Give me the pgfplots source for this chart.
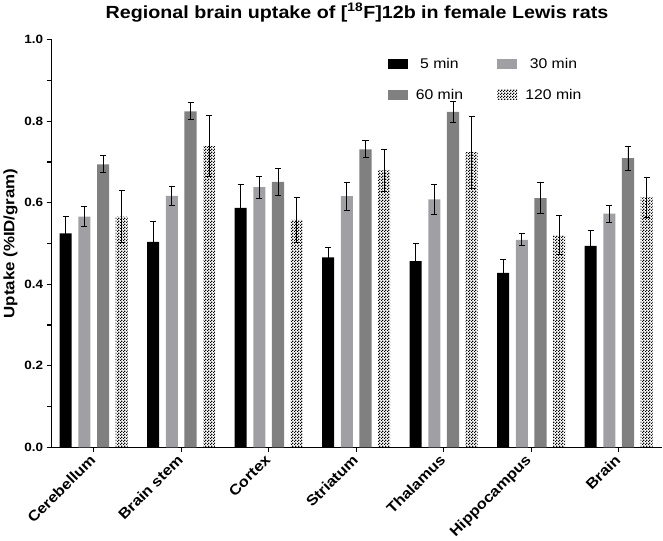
\documentclass[border=0pt]{standalone}
\usepackage{pgfplots}
\pgfplotsset{compat=1.18}
\usepackage{pgfplotstable}
\usepackage{graphicx}
\usepackage{fontspec}
\setmainfont{Liberation Sans}[FakeStretch=1.12]
\usetikzlibrary{patterns}
\pgfdeclarepatternformonly{finecheck}{\pgfqpoint{0pt}{0pt}}{\pgfqpoint{3pt}{3pt}}{\pgfqpoint{3pt}{3pt}}{%
\pgfpathrectangle{\pgfqpoint{0pt}{0pt}}{\pgfqpoint{1.5pt}{1.5pt}}%
\pgfpathrectangle{\pgfqpoint{1.5pt}{1.5pt}}{\pgfqpoint{1.5pt}{1.5pt}}%
\pgfusepath{fill}}
\definecolor{lgray}{RGB}{160,160,164}
\definecolor{dgray}{RGB}{128,128,128}
\pgfplotstableread{
x v5 e5 v30 e30 v60 e60 v120 e120
0 0.525 0.041 0.566 0.024 0.694 0.021 0.566 0.064
1 0.504 0.051 0.617 0.024 0.824 0.021 0.739 0.074
2 0.587 0.058 0.638 0.027 0.651 0.034 0.558 0.056
3 0.466 0.025 0.616 0.034 0.731 0.021 0.679 0.051
4 0.457 0.042 0.608 0.037 0.823 0.026 0.724 0.088
5 0.428 0.033 0.509 0.015 0.611 0.038 0.520 0.048
6 0.494 0.038 0.573 0.021 0.709 0.029 0.613 0.049
}\data
\newcommand{\rl}[1]{\rotatebox{45}{#1}}
\begin{document}
\begin{tikzpicture}
\begin{axis}[
  scale only axis,
  width=608pt, height=406pt,
  ybar=6.6pt, bar width=12pt,
  xmin=-0.48, xmax=6.5,
  ymin=0, ymax=1.0,
  axis x line*=bottom, axis y line*=left,
  axis line style={line width=1.2pt},
  xtick={0,1,2,3,4,5,6},
  xticklabels={\rl{Cerebellum},\rl{Brain stem},\rl{Cortex},\rl{Striatum},\rl{Thalamus},\rl{Hippocampus},\rl{Brain}},
  xticklabel style={anchor=north east, font=\bfseries\fontsize{14.5}{16}\selectfont, inner sep=1pt, xshift=4pt},
  ytick={0,0.2,0.4,0.6,0.8,1.0},
  minor ytick={0.1,0.3,0.5,0.7,0.9},
  yticklabel style={font=\bfseries\fontsize{12}{14}\selectfont, /pgf/number format/.cd, fixed, fixed zerofill, precision=1, assume math mode=true},
  tick align=outside,
  major tick length=5pt, minor tick length=5pt,
  tick style={line width=1.2pt, black},
  ylabel={Uptake (\%ID/gram)},
  ylabel style={font=\bfseries\fontsize{15}{17}\selectfont},
  title={Regional brain uptake of [\textsuperscript{18}F]12b in female Lewis rats},
  title style={font=\bfseries\fontsize{17.5}{20}\selectfont, yshift=8pt},
  legend columns=2,
  legend style={at={(0.545,0.965)}, anchor=north west, draw=none, fill=none,
    font=\fontsize{14}{16}\selectfont, row sep=15pt,
    /tikz/every odd column/.append style={column sep=6pt},
    /tikz/every even column/.append style={column sep=32pt}},
  legend image code/.code={\draw[#1, draw=none] (0pt,-5pt) rectangle (20pt,5pt);},
  error bars/y dir=both, error bars/y explicit,
  error bars/error bar style={line width=0.9pt, black},
  error bars/error mark options={rotate=90, mark size=3pt, line width=0.9pt, black},
]
\addplot[fill=black, draw=none] table[x=x, y=v5, y error=e5] {\data};
\addplot[fill=lgray, draw=none] table[x=x, y=v30, y error=e30] {\data};
\addplot[fill=dgray, draw=none] table[x=x, y=v60, y error=e60] {\data};
\addplot[pattern=finecheck, pattern color=black, draw=none] table[x=x, y=v120, y error=e120] {\data};
\legend{5 min, 30 min, 60 min, 120 min}
\end{axis}
\end{tikzpicture}
\end{document}
